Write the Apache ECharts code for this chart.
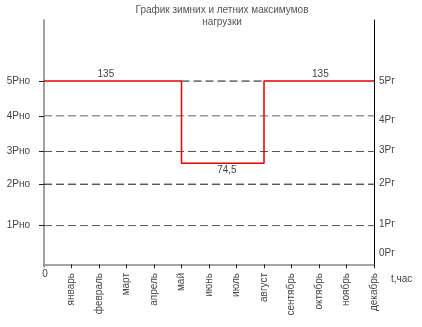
<!DOCTYPE html>
<html>
<head>
<meta charset="utf-8">
<script src="https://cdn.jsdelivr.net/npm/echarts@6/dist/echarts.min.js"></script>
<style>
  html, body { margin: 0; padding: 0; background: #fff; }
  #chart { width: 422px; height: 327px; }
</style>
</head>
<body>
<div id="chart"></div>
<script>
// Months along the time axis (tick i = end of month i)
const months = ['январь', 'февраль', 'март', 'апрель', 'май', 'июнь',
                'июль', 'август', 'сентябрь', 'октябрь', 'ноябрь', 'декабрь'];

// Load levels
const winterMax = 135;
const summerMax = 74.5;
const summerStart = 5;   // май
const summerEnd = 8;     // август

// Reference levels drawn as dashed lines (left axis, in load units)
const levelValues = [28.5, 59, 83.1, 109.4, 135];
const levelNamesLeft = ['1Рно', '2Рно', '3Рно', '4Рно', '5Рно'];

// Right axis label positions and names
const rightValues = [8.3, 29.3, 60, 84, 105.8, 135];
const rightNames = ['0Рг', '1Рг', '2Рг', '3Рг', '4Рг', '5Рг'];

const levelStyles = [
  { color: '#555', width: 1 },
  { color: '#111', width: 1 },
  { color: '#555', width: 1 },
  { color: '#999', width: 1.6 },
  { color: '#111', width: 1 }
];

const FONT = 'Liberation Sans, Arial, sans-serif';
const chart = echarts.init(document.getElementById('chart'));

const fmt = v => String(v).replace('.', ',');

const levelSeries = levelValues.map((v, i) => ({
  type: 'line',
  symbol: 'none',
  z: 2,
  lineStyle: { color: levelStyles[i].color, width: levelStyles[i].width, type: [8, 4] },
  // top level is only visible where the summer dip leaves it uncovered
  data: i === levelValues.length - 1 ? [[summerStart, v], [summerEnd, v]] : [[0, v], [12, v]]
}));

const loadSteps = [
  [0, winterMax], [summerStart, winterMax], [summerStart, summerMax],
  [summerEnd, summerMax], [summerEnd, winterMax], [12, winterMax]
];

const caption = (x, y, pos) => ({
  coord: [x, y], value: y,
  label: { show: true, position: pos, distance: 2, fontSize: 10, color: '#444', fontFamily: FONT,
           formatter: p => fmt(p.value) }
});

chart.setOption({
  animation: false,
  textStyle: { fontFamily: FONT },
  title: {
    text: 'График зимних и летних максимумов\nнагрузки',
    left: 217, top: -1, textAlign: 'center',
    textStyle: { fontSize: 10, fontWeight: 'normal', color: '#555', lineHeight: 12, fontFamily: FONT }
  },
  grid: { left: 44, right: 48, top: 20, bottom: 60 },
  xAxis: {
    type: 'value', min: 0, max: 12, interval: 1,
    axisLine: { lineStyle: { color: '#888', width: 1.5 } },
    axisTick: { show: true, length: 4, lineStyle: { color: '#222' },
                customValues: months.map((m, i) => i + 1) },
    splitLine: { show: false },
    axisLabel: {
      rotate: 90, margin: 6, fontSize: 10, color: '#444', fontFamily: FONT,
      customValues: months.map((m, i) => i + 1),
      formatter: v => months[v - 1] || ''
    }
  },
  yAxis: [
    {
      type: 'value', min: -2, max: 180, position: 'left',
      axisLine: { show: true, lineStyle: { color: '#808080', width: 1.5 } },
      axisTick: { show: true, length: 5, customValues: levelValues, lineStyle: { color: '#222' } },
      splitLine: { show: false },
      axisLabel: {
        margin: 14, fontSize: 10, color: '#444', fontFamily: FONT,
        customValues: levelValues,
        formatter: v => levelNamesLeft[levelValues.indexOf(v)] || ''
      }
    },
    {
      type: 'value', min: -2, max: 180, position: 'right',
      axisLine: { show: true, lineStyle: { color: '#000', width: 1 } },
      axisTick: { show: false },
      splitLine: { show: false },
      axisLabel: {
        margin: 5, fontSize: 10, color: '#444', fontFamily: FONT,
        customValues: rightValues,
        formatter: v => rightNames[rightValues.indexOf(v)] || ''
      }
    }
  ],
  series: [
    ...levelSeries,
    {
      type: 'line',
      symbol: 'none',
      z: 5,
      lineStyle: { color: '#e60000', width: 1.5 },
      data: loadSteps,
      markPoint: {
        symbol: 'circle',
        symbolSize: 0,
        itemStyle: { color: 'transparent' },
        data: [
          caption(2.25, winterMax, 'top'),
          caption(10.05, winterMax, 'top'),
          caption(6.65, summerMax, 'bottom')
        ]
      }
    }
  ]
});

// origin caption and time-axis name under the axes corners
const origin = chart.convertToPixel({ xAxisIndex: 0, yAxisIndex: 0 }, [0, -2]);
const end = chart.convertToPixel({ xAxisIndex: 0, yAxisIndex: 0 }, [12, -2]);
chart.setOption({
  graphic: [
    {
      type: 'text', x: origin[0] + 1, y: origin[1] + 7,
      style: { text: '0', font: '10px ' + FONT, fill: '#444', textAlign: 'center', textVerticalAlign: 'middle' }
    },
    {
      type: 'text', x: end[0] + 17, y: end[1] + 12,
      style: { text: 't,час', font: '10px ' + FONT, fill: '#444', textAlign: 'left', textVerticalAlign: 'middle' }
    }
  ]
});
</script>
</body>
</html>
